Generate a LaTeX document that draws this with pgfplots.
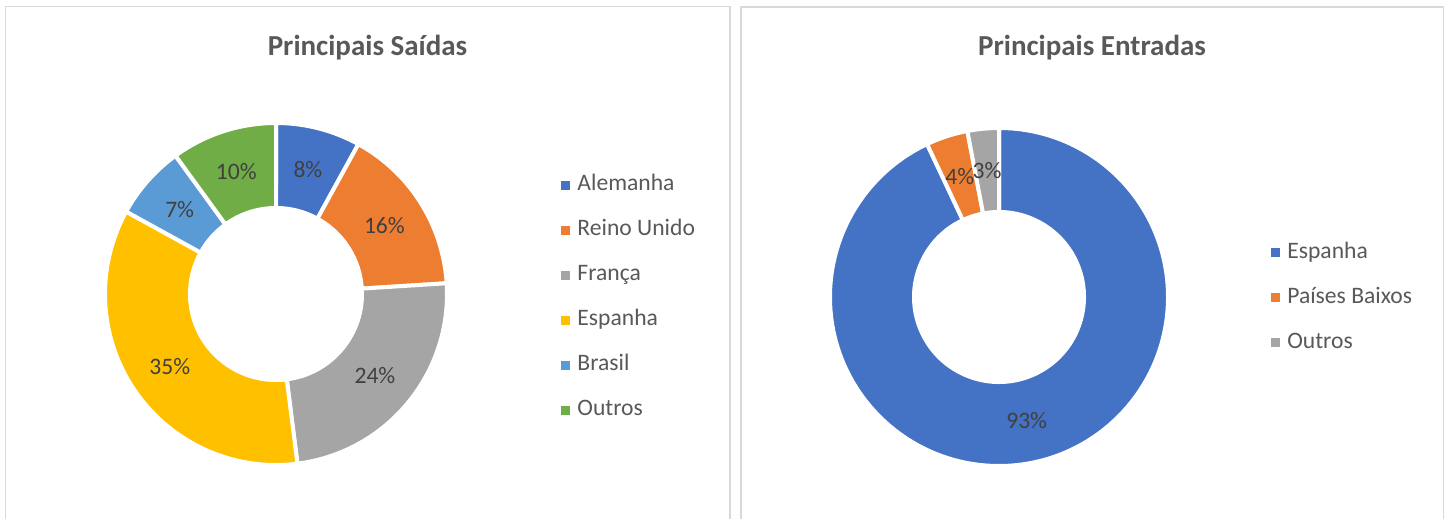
\documentclass[border=0pt]{standalone}
\usepackage{pgfplots}
\pgfplotsset{compat=1.18}
\usepackage{pgfplotstable}
\usepackage{fontspec}
\setmainfont{Carlito}
\definecolor{cBlue}{HTML}{4472C4}
\definecolor{cOrange}{HTML}{ED7D31}
\definecolor{cGray}{HTML}{A5A5A5}
\definecolor{cYellow}{HTML}{FFC000}
\definecolor{cLBlue}{HTML}{5B9BD5}
\definecolor{cGreen}{HTML}{70AD47}
\definecolor{txtA}{HTML}{595959}
\definecolor{txtB}{HTML}{404040}
\definecolor{frameC}{HTML}{D9D9D9}

\pgfplotstableread{
label value color
Alemanha 8 cBlue
{Reino Unido} 16 cOrange
França 24 cGray
Espanha 35 cYellow
Brasil 7 cLBlue
Outros 10 cGreen
}\saidas
\pgfplotstableread{
label value color
Espanha 93 cBlue
{Países Baixos} 4 cOrange
Outros 3 cGray
}\entradas

\pgfplotsset{
  legimg/.style={legend image code/.code={\fill[draw=none] (0pt,-2.25pt) rectangle (4.5pt,2.25pt);}},
  donutaxis/.style={
    hide axis, scale only axis, disabledatascaling,
    xmin=-1.2, xmax=1.2, ymin=-1.2, ymax=1.2,
    anchor=center, clip=false,
    legend cell align=left,
    legend style={draw=none, fill=none, inner sep=0pt, anchor=west,
      font=\fontsize{11.8}{14}\selectfont, text=txtA,
      nodes={inner sep=0pt, text height=8.4pt, text depth=2.6pt, anchor=west},
      row sep=11.5pt,
      /tikz/every odd column/.append style={column sep=3.5pt}},
  },
}

\newcommand\donut[3]{%
  \pgfplotstablegetrowsof{#1}%
  \pgfmathtruncatemacro\nrows{\pgfplotsretval-1}%
  \def\cum{0}%
  \pgfplotsforeachungrouped \i in {0,...,\nrows}{%
    \pgfplotstablegetelem{\i}{value}\of{#1}\let\val\pgfplotsretval
    \pgfplotstablegetelem{\i}{color}\of{#1}\let\col\pgfplotsretval
    \pgfplotstablegetelem{\i}{label}\of{#1}\let\lab\pgfplotsretval
    \pgfmathsetmacro\aS{90-3.6*\cum}%
    \pgfmathsetmacro\aE{90-3.6*(\cum+\val)}%
    \pgfmathsetmacro\xo{cos(\aS)}\pgfmathsetmacro\yo{sin(\aS)}%
    \pgfmathsetmacro\xin{#2*cos(\aE)}\pgfmathsetmacro\yin{#2*sin(\aE)}%
    \edef\cmd{%
      \noexpand\filldraw[fill=\col,draw=white,line width=2pt]
        (axis cs:\xo,\yo) arc[start angle=\aS,end angle=\aE,radius=1]
        -- (axis cs:\xin,\yin) arc[start angle=\aE,end angle=\aS,radius=#2] -- cycle;
      \noexpand\addlegendimage{legimg,fill=\col}
      \noexpand\addlegendentry{\lab}
    }\cmd
    \pgfmathsetmacro\cum{\cum+\val}%
  }%
  \def\cum{0}%
  \pgfplotsforeachungrouped \i in {0,...,\nrows}{%
    \pgfplotstablegetelem{\i}{value}\of{#1}\let\val\pgfplotsretval
    \pgfmathsetmacro\aM{90-3.6*(\cum+\val/2)}%
    \pgfmathsetmacro\xl{#3*cos(\aM)}\pgfmathsetmacro\yl{#3*sin(\aM)}%
    \edef\cmd{%
      \noexpand\node[font=\noexpand\fontsize{11.8}{14}\noexpand\selectfont, text=txtB, inner sep=0pt]
        at (axis cs:\xl,\yl) {\val\noexpand\%};
    }\cmd
    \pgfmathsetmacro\cum{\cum+\val}%
  }%
}

\begin{document}
\begin{tikzpicture}
\fill[white] (0,0) rectangle (725pt,259.5pt);
\path[use as bounding box] (0,0) rectangle (725pt,259.5pt);
% panel frames
\draw[frameC, line width=0.75pt] (2.75pt,-2pt) -- (2.75pt,256.25pt) -- (365pt,256.25pt) -- (365pt,-2pt);
\draw[frameC, line width=0.75pt] (370.5pt,-2pt) -- (370.5pt,256pt) -- (721.75pt,256pt) -- (721.75pt,-2pt);
% titles
\node[font=\bfseries\fontsize{14.5}{17}\selectfont, text=txtA] at (183.75pt,235.5pt) {Principais Saídas};
\node[font=\bfseries\fontsize{14.5}{17}\selectfont, text=txtA] at (546pt,235.5pt) {Principais Entradas};

\begin{axis}[donutaxis, width=205.2pt, height=205.2pt, at={(138pt,112.5pt)},
  legend style={at={(axis description cs:1.1946,0.4914)}}]
\donut{\saidas}{0.503}{0.751}
\end{axis}

\begin{axis}[donutaxis, width=202.8pt, height=202.8pt, at={(499.5pt,111pt)},
  legend style={at={(axis description cs:1.1704,0.4976)}}]
\donut{\entradas}{0.503}{0.751}
\end{axis}
\end{tikzpicture}
\end{document}
